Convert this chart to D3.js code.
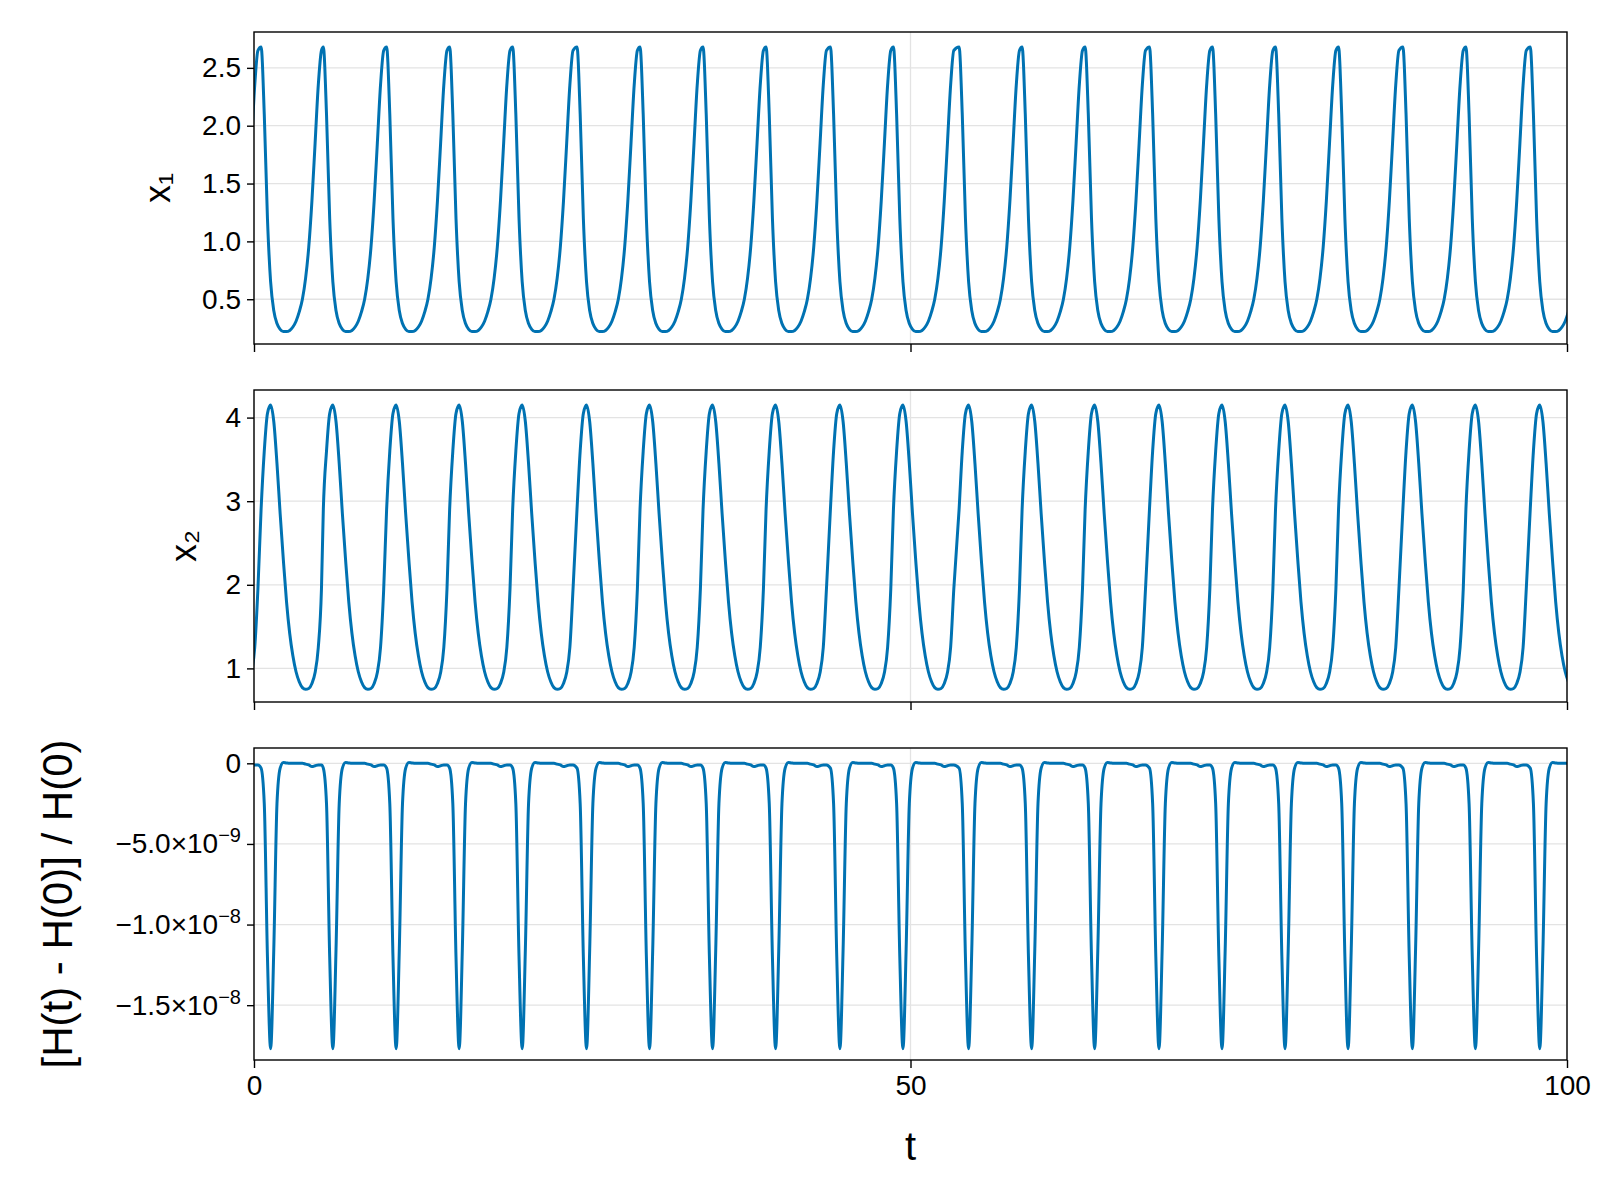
<!DOCTYPE html>
<html><head><meta charset="utf-8">
<script src="https://cdn.jsdelivr.net/npm/d3@7"></script>
<style>body{margin:0;background:#fff}text{font-family:"Liberation Sans",Arial,sans-serif;fill:#000}</style>
</head><body><svg id="c" width="1600" height="1200"></svg>
<script>
// x1 peak times (one per oscillation)
const peakTimes = [-4.3,0.54,5.28,10.1,14.9,19.7,24.6,29.4,34.2,39.0,43.9,48.7,53.7,58.5,63.3,68.2,73.0,77.8,82.6,87.5,92.3,97.2,102.0];
const period = 4.84;
const phaseSteps = d3.range(0,1.0001,0.05);
const x1Cycle = [2.68,2.1,1.2,0.65,0.4,0.29,0.24,0.22,0.22,0.23,0.26,0.31,0.39,0.5,0.68,0.95,1.35,1.85,2.35,2.65,2.68];
const x2Cycle = [2.9,3.6,4.05,4.15,3.95,3.45,2.85,2.3,1.8,1.42,1.15,0.96,0.84,0.77,0.75,0.76,0.82,0.95,1.25,1.95,2.9];
const hCycle = [-0.3e-9,-2.5e-9,-1.2e-8,-1.77e-8,-1.15e-8,-2.5e-9,-0.3e-9,0.05e-9,0.02e-9,0,0,0,0,0,-0.05e-9,-0.1e-9,-0.2e-9,-0.15e-9,-0.1e-9,-0.1e-9,-0.3e-9];
const xTicks=[0,50,100];
const panels=[
 {label:"x₁",vals:x1Cycle,dom:[0.113,2.81],ticks:[0.5,1.0,1.5,2.0,2.5],fmt:d=>d.toFixed(1),top:32,fs:36,lx:158},
 {label:"x₂",vals:x2Cycle,dom:[0.598,4.33],ticks:[1,2,3,4],fmt:d=>String(d),top:390,fs:36,lx:184},
 {label:"[H(t) - H(0)] / H(0)",vals:hCycle,dom:[-1.84e-8,0.95e-9],ticks:[0,-5e-9,-1e-8,-1.5e-8],
  fmt:d=>d===0?"0":null,sup:{"-5e-9":["−5.0×10","−9"],"-1e-8":["−1.0×10","−8"],"-1.5e-8":["−1.5×10","−8"]},top:748,fs:42,lx:60}
];
const svg=d3.select("#c");
const L=254,R=1567,H=312;
const x=d3.scaleLinear().domain([0,100]).range([L,R]);
panels.forEach((p,i)=>{
  const y=d3.scaleLinear().domain(p.dom).range([p.top+H,p.top]);
  const g=svg.append("g");
  g.selectAll(".gy").data(p.ticks).join("line").attr("x1",L).attr("x2",R).attr("y1",d=>y(d)).attr("y2",d=>y(d)).attr("stroke","#e3e3e3").attr("stroke-width",1.3);
  g.selectAll(".gx").data(xTicks).join("line").attr("x1",d=>x(d)).attr("x2",d=>x(d)).attr("y1",p.top).attr("y2",p.top+H).attr("stroke","#e3e3e3").attr("stroke-width",1.3);
  const pts=[];
  peakTimes.forEach(t0=>phaseSteps.forEach((ph,k)=>{if(k<phaseSteps.length-1)pts.push([t0+ph*period,p.vals[k]]);}));
  const cid="clip"+i;
  svg.append("clipPath").attr("id",cid).append("rect").attr("x",L).attr("y",p.top).attr("width",R-L).attr("height",H);
  g.append("path").datum(pts).attr("clip-path",`url(#${cid})`).attr("fill","none").attr("stroke","#0072B2").attr("stroke-width",3)
   .attr("d",d3.line().x(d=>x(d[0])).y(d=>y(d[1])).curve(d3.curveMonotoneX));
  g.append("rect").attr("x",L).attr("y",p.top).attr("width",R-L).attr("height",H).attr("fill","none").attr("stroke","#000").attr("stroke-width",1.4);
  const ya=g.append("g").attr("transform",`translate(${L},0)`).call(d3.axisLeft(y).tickValues(p.ticks).tickSize(7).tickFormat(d=>p.fmt(d)||""));
  ya.select(".domain").remove();
  ya.selectAll("line").attr("stroke-width",1.4);
  ya.selectAll("text").attr("font-size",28).attr("dx",-3);
  if(p.sup){
    ya.selectAll(".tick").each(function(d){const s=p.sup[String(d)];if(!s)return;const t=d3.select(this).select("text");t.text(s[0]).attr("font-size",28);t.append("tspan").attr("dy",-11).attr("font-size",20).text(s[1]);});
  }
  const xa=g.append("g").attr("transform",`translate(0,${p.top+H})`).call(d3.axisBottom(x).tickValues(xTicks).tickSize(8).tickFormat(i===2?d3.format("d"):""));
  xa.select(".domain").remove();
  xa.selectAll("line").attr("stroke-width",1.4);
  xa.selectAll("text").attr("font-size",28).attr("dy",24);
  g.append("text").attr("transform",`translate(${p.lx},${p.top+H/2}) rotate(-90)`).attr("text-anchor","middle").attr("font-size",p.fs).attr("dy",12).text(p.label);
});
svg.append("text").attr("x",(L+R)/2).attr("y",1160).attr("text-anchor","middle").attr("font-size",40).text("t");
</script></body></html>
